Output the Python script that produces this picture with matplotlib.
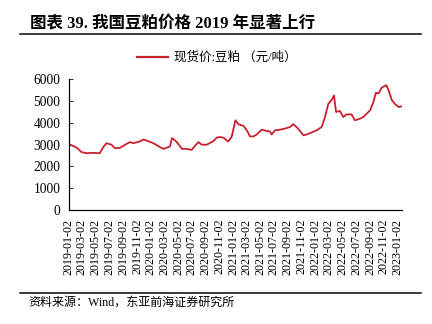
import datetime as dt
import matplotlib
matplotlib.use("Agg")
import matplotlib.pyplot as plt
from matplotlib.lines import Line2D

# --- Data (spot price, soybean meal, yuan/ton) ---
dates = [
    "2019-01-02", "2019-02-08", "2019-03-01", "2019-03-23", "2019-04-21", "2019-05-21",
    "2019-06-05", "2019-06-20", "2019-07-12", "2019-07-27", "2019-08-19", "2019-09-17",
    "2019-10-02", "2019-10-17", "2019-11-15", "2019-11-30", "2019-12-15", "2020-01-14",
    "2020-02-12", "2020-02-27", "2020-03-13", "2020-03-28", "2020-04-05", "2020-04-13",
    "2020-04-27", "2020-05-20", "2020-06-11", "2020-07-02", "2020-07-17", "2020-08-01",
    "2020-08-16", "2020-09-07", "2020-10-07", "2020-10-22", "2020-11-06", "2020-11-21",
    "2020-12-05", "2020-12-12", "2020-12-27", "2021-01-12", "2021-01-26", "2021-02-17",
    "2021-03-04", "2021-03-18", "2021-04-02", "2021-04-17", "2021-05-09", "2021-05-31",
    "2021-06-15", "2021-06-22", "2021-07-07", "2021-07-29", "2021-08-20", "2021-09-11",
    "2021-09-26", "2021-10-11", "2021-10-26", "2021-11-10", "2021-11-25", "2021-12-09",
    "2022-01-08", "2022-01-30", "2022-02-14", "2022-03-01", "2022-03-16", "2022-03-26",
    "2022-04-04", "2022-04-21", "2022-05-06", "2022-05-21", "2022-06-12", "2022-06-27",
    "2022-07-19", "2022-08-03", "2022-08-18", "2022-09-02", "2022-09-17", "2022-09-28",
    "2022-10-10", "2022-10-24", "2022-11-13", "2022-11-23", "2022-12-08", "2022-12-23",
    "2023-01-07", "2023-01-22",
]
price = [
    3030, 2850, 2650, 2600, 2620, 2600,
    2880, 3060, 2990, 2830, 2850, 3030,
    3110, 3060, 3140, 3230, 3180, 3060,
    2880, 2800, 2850, 2920, 3290, 3240,
    3110, 2800, 2800, 2750, 2950, 3110,
    2990, 2990, 3160, 3320, 3340, 3310,
    3180, 3140, 3370, 4110, 3930, 3850,
    3650, 3370, 3370, 3460, 3680, 3620,
    3600, 3460, 3650, 3680, 3730, 3800,
    3930, 3800, 3620, 3420, 3460, 3520,
    3650, 3800, 4260, 4870, 5050, 5250,
    4490, 4540, 4260, 4380, 4380, 4110,
    4180, 4260, 4410, 4570, 4950, 5370,
    5340, 5610, 5720, 5490, 5030, 4840,
    4720, 4750,
]
tick_labels = [f"{y}-{m:02d}-02" for y in range(2019, 2024) for m in (1, 3, 5, 7, 9, 11)
               if (y, m) <= (2023, 1)]
series_name = "现货价:豆粕 （元/吨）"
title = "图表 39. 我国豆粕价格 2019 年显著上行"
source = "资料来源：Wind，东亚前海证券研究所"

FONTS = ["Liberation Serif", "Noto Sans CJK SC"]
plt.rcParams["font.family"] = FONTS
RED = "#C8202F"

fig = plt.figure(figsize=(6, 4.5), dpi=72)
ax = fig.add_axes([0.1586, 0.352, 0.772, 0.404])

x = [dt.datetime.strptime(d, "%Y-%m-%d") for d in dates]
ax.plot(x, price, color=RED, linewidth=1.8)

ax.set_ylim(0, 6000)
ax.set_yticks(range(0, 6001, 1000))
ax.set_xlim(x[0], x[-1])
ticks = [dt.datetime.strptime(t, "%Y-%m-%d") for t in tick_labels]
ax.set_xticks(ticks)
ax.set_xticklabels(tick_labels, rotation=90, fontsize=12)
ax.tick_params(axis="x", length=0, pad=9)
ax.tick_params(axis="y", direction="in", length=4, labelsize=13.5, pad=8)

for s in ["top", "right"]:
    ax.spines[s].set_visible(False)
ax.spines["left"].set_color("black")
ax.spines["bottom"].set_color("black")
ax.spines["left"].set_linewidth(1.2)
ax.spines["bottom"].set_linewidth(1.2)

# legend above plot
handle = Line2D([], [], color=RED, linewidth=2.2)
fig.legend([handle], [series_name], loc="center", bbox_to_anchor=(0.502, 0.822),
           frameon=False, handlelength=2.5, handletextpad=0.5,
           prop={"family": FONTS, "size": 12.5})

# title, rules and source
fig.text(0.069, 0.926, title, fontsize=16.5, fontweight="bold", va="center", ha="left")
fig.add_artist(Line2D([0.046, 0.975], [0.895, 0.895], color="black", linewidth=1.5))
fig.add_artist(Line2D([0.046, 0.975], [0.096, 0.096], color="black", linewidth=1.5))
fig.text(0.065, 0.065, source, fontsize=12, va="center", ha="left")

fig.savefig("out.png", dpi=72)
